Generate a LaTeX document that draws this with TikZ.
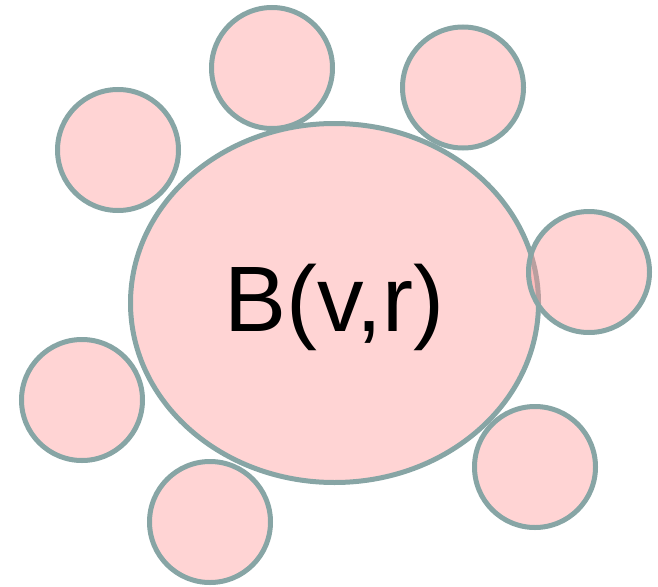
\documentclass[tikz,border=0pt]{standalone}
\usepackage{fontspec}
\setmainfont{Liberation Sans}
\begin{document}
\begin{tikzpicture}[x=1pt,y=-1pt,
  blob/.style={draw=ballstroke,line width=5pt,fill=ballfill,fill opacity=0.42,draw opacity=1}]
\definecolor{ballstroke}{HTML}{87A5A5}
\definecolor{ballfill}{HTML}{FF9999}
\useasboundingbox (0,0) rectangle (658,586);
\draw[blob] (272,68) circle (60.5);
\draw[blob] (118,150) circle (60.5);
\draw[blob] (82,400) circle (60.5);
\draw[blob] (210,522) circle (60.5);
\draw[blob] (334.5,303) ellipse (204 and 179.5);
\draw[blob] (463,87.5) circle (60.5);
\draw[blob] (589,272) circle (60.5);
\draw[blob] (535,467) circle (60.5);
\node[anchor=base,inner sep=0] (lbl) at (334.5,331) {\fontsize{93}{98}\selectfont B(v,r)};
\end{tikzpicture}
\end{document}
